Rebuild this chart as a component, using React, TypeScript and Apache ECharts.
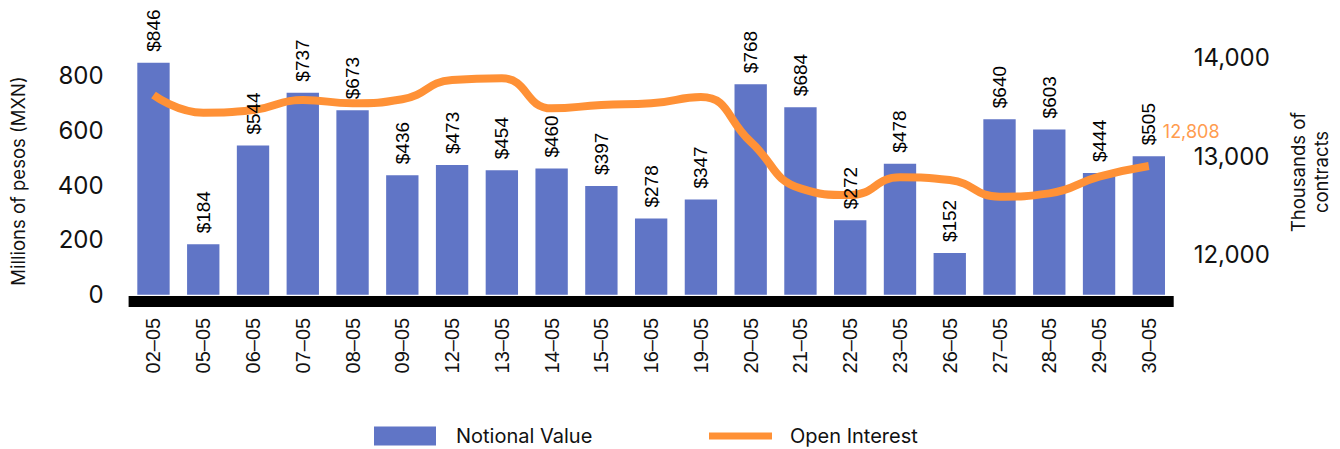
import React, { useEffect, useRef } from "react";
import * as echarts from "echarts";

const categories = [
  "02–05", "05–05", "06–05", "07–05", "08–05", "09–05", "12–05", "13–05", "14–05", "15–05",
  "16–05", "19–05", "20–05", "21–05", "22–05", "23–05", "26–05", "27–05", "28–05", "29–05", "30–05",
];
const notionalValue = [846, 184, 544, 737, 673, 436, 473, 454, 460, 397, 278, 347, 768, 684, 272, 478, 152, 640, 603, 444, 505];
const openInterest = [13528, 13349, 13376, 13478, 13444, 13485, 13681, 13698, 13393, 13427, 13444, 13508, 13054, 12581, 12513, 12693, 12665, 12496, 12530, 12699, 12808];

const BAR = "#6075C6";
const ORANGE = "#FF9136";
const TXT = "#111111";

export default function App() {
  const ref = useRef<HTMLDivElement>(null);
  useEffect(() => {
    document.body.style.margin = "0";
    const chart = echarts.init(ref.current!, null, { renderer: "svg" });
    const barLabel = {
      show: true, position: "top", rotate: 90, align: "left", verticalAlign: "middle", distance: 11,
      fontFamily: "Liberation Sans", fontSize: 19, color: "#000",
      formatter: (p: any) => "$" + p.value,
    };
    chart.setOption({
      animation: false,
      grid: { left: 128.6, right: 166.3, top: 20.5, bottom: 154.2 },
      legend: [
        {
          left: 374, top: 426, padding: 0, itemWidth: 62, itemHeight: 19,
          data: [{ name: "Notional Value", icon: "rect" }],
          textStyle: { fontFamily: "Inter", fontSize: 20, color: TXT, lineHeight: 20, padding: [0, 0, 0, 15] },
        },
        {
          left: 709, top: 426, padding: 0, itemWidth: 63, itemHeight: 7,
          data: [{ name: "Open Interest", icon: "rect" }],
          textStyle: { fontFamily: "Inter", fontSize: 20, color: TXT, lineHeight: 20, padding: [0, 0, 0, 13] },
        },
      ],
      xAxis: {
        type: "category",
        data: categories,
        offset: 6,
        axisLine: { onZero: false, lineStyle: { color: "#000", width: 11, cap: "butt" } },
        axisTick: { show: false },
        axisLabel: { rotate: 90, margin: 17, fontFamily: "Liberation Sans", fontSize: 20, color: TXT, interval: 0 },
      },
      yAxis: [
        {
          type: "value", min: 0, max: 1000, interval: 200,
          splitLine: { show: false }, axisLine: { show: false }, axisTick: { show: false },
          axisLabel: { showMaxLabel: false, margin: 25, fontFamily: "Inter", fontSize: 24, color: TXT },
        },
        {
          type: "value", min: 11500, max: 14285, interval: 500, position: "right",
          splitLine: { show: false }, axisLine: { show: false }, axisTick: { show: false },
          axisLabel: {
            margin: 20, fontFamily: "Inter", fontSize: 24, color: TXT,
            verticalAlign: "top", lineHeight: 18,
            formatter: (v: number) => (v % 1000 === 0 ? v.toLocaleString("en-US") : ""),
          },
        },
      ],
      graphic: [
        {
          type: "text", x: 18, y: 181, rotation: Math.PI / 2,
          style: { text: "Millions of pesos (MXN)", fontFamily: "Inter", fontSize: 18.5, fill: TXT, align: "center", verticalAlign: "middle" },
        },
        {
          type: "text", x: 1309, y: 172, rotation: Math.PI / 2,
          style: { text: "Thousands of\ncontracts", fontFamily: "Inter", fontSize: 18.5, lineHeight: 23, fill: TXT, align: "center", verticalAlign: "middle" },
        },
      ],
      series: [
        {
          name: "Notional Value",
          type: "bar",
          data: notionalValue,
          barGap: "-100%",
          barCategoryGap: "35%",
          itemStyle: { color: BAR },
          z: 2,
        },
        {
          name: "Open Interest",
          type: "line",
          yAxisIndex: 1,
          data: openInterest,
          smooth: true,
          showSymbol: false,
          lineStyle: { color: ORANGE, width: 8 },
          itemStyle: { color: ORANGE },
          z: 3,
          endLabel: {
            show: true, distance: 5, offset: [9, -34],
            fontFamily: "Inter", fontSize: 18, color: "#FF9C4F",
            formatter: (p: any) => Number(p.value).toLocaleString("en-US"),
          },
        },
        {
          name: "Notional Value labels",
          type: "bar",
          data: notionalValue,
          barGap: "-100%",
          barCategoryGap: "35%",
          itemStyle: { color: "rgba(0,0,0,0)" },
          silent: true,
          z: 5,
          label: barLabel,
        },
      ],
    });
    return () => chart.dispose();
  }, []);
  return <div ref={ref} style={{ width: 1340, height: 449 }} />;
}
